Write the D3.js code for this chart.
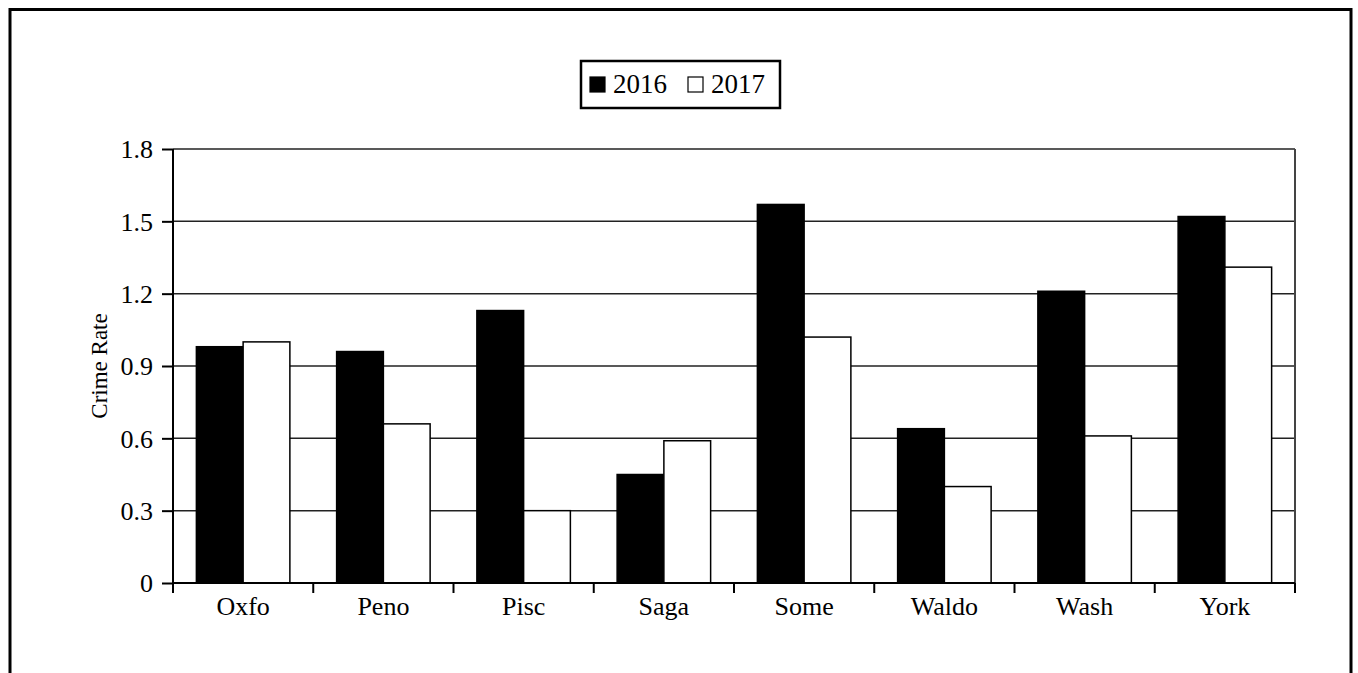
<!DOCTYPE html>
<html>
<head>
<meta charset="utf-8">
<script src="https://cdn.jsdelivr.net/npm/d3@7"></script>
<style>
  body { margin: 0; background: #fff; }
  text { font-family: "Liberation Serif", "Times New Roman", serif; fill: #000; }
</style>
</head>
<body>
<svg id="chart" width="1358" height="673"></svg>
<script>
// chart data
const counties = ["Oxfo", "Peno", "Pisc", "Saga", "Some", "Waldo", "Wash", "York"];
const years = ["2016", "2017"];
const rate2016 = [0.98, 0.96, 1.13, 0.45, 1.57, 0.64, 1.21, 1.52];
const rate2017 = [1.00, 0.66, 0.30, 0.59, 1.02, 0.40, 0.61, 1.31];
const yTicks = [0, 0.3, 0.6, 0.9, 1.2, 1.5, 1.8];

const svg = d3.select("#chart");

// outer frame (bottom edge runs off the picture)
svg.append("rect")
  .attr("x", 10).attr("y", 9.5)
  .attr("width", 1341).attr("height", 700)
  .attr("fill", "none").attr("stroke", "#000").attr("stroke-width", 3);

const plotL = 173, plotR = 1295, plotT = 149, plotB = 583;

const x = d3.scaleBand().domain(counties).range([plotL, plotR]);
const xInner = d3.scaleBand().domain(years)
  .range([0, x.bandwidth()]).paddingOuter(0.5);
const y = d3.scaleLinear().domain([0, 1.8]).range([plotB, plotT]);

// gridlines
svg.append("g").selectAll("line")
  .data(yTicks.slice(1))
  .join("line")
  .attr("x1", plotL).attr("x2", plotR)
  .attr("y1", d => y(d)).attr("y2", d => y(d))
  .attr("stroke", "#222").attr("stroke-width", 1.5);

// right edge of plot
svg.append("line")
  .attr("x1", plotR).attr("x2", plotR)
  .attr("y1", plotT).attr("y2", plotB)
  .attr("stroke", "#444").attr("stroke-width", 2);

const rows = counties.map((c, i) => ({ county: c, values: [rate2016[i], rate2017[i]] }));

const groups = svg.append("g").selectAll("g")
  .data(rows)
  .join("g")
  .attr("transform", d => `translate(${x(d.county)},0)`);

groups.selectAll("rect")
  .data(d => d.values.map((v, j) => ({ year: years[j], v })))
  .join("rect")
  .attr("x", d => xInner(d.year))
  .attr("width", xInner.bandwidth())
  .attr("y", d => y(d.v))
  .attr("height", d => plotB - y(d.v))
  .attr("fill", d => d.year === "2016" ? "#000" : "#fff")
  .attr("stroke", "#000").attr("stroke-width", 1.5);

// y axis
const yAxis = svg.append("g")
  .attr("transform", `translate(${plotL},0)`)
  .call(d3.axisLeft(y).tickValues(yTicks).tickSize(11).tickPadding(9)
    .tickFormat(d => d === 0 ? "0" : d3.format(".1f")(d)));
yAxis.select(".domain").attr("stroke", "#000").attr("stroke-width", 2).attr("d", `M0,${plotT}V${plotB}`);
yAxis.selectAll(".tick line").attr("stroke", "#000").attr("stroke-width", 2);
yAxis.selectAll("text").style("font-size", "26px").attr("dy", "0.34em");

// x axis
const xAxis = svg.append("g")
  .attr("transform", `translate(0,${plotB})`)
  .call(d3.axisBottom(x).tickSize(0).tickPadding(14));
xAxis.select(".domain").attr("stroke", "#000").attr("stroke-width", 2).attr("d", `M${plotL},0H${plotR}`);
xAxis.selectAll("text").style("font-size", "26px").attr("dy", "0.71em");

// category separator ticks
xAxis.append("g").selectAll("line")
  .data(counties.concat(["end"]))
  .join("line")
  .attr("x1", (d, i) => plotL + i * x.bandwidth())
  .attr("x2", (d, i) => plotL + i * x.bandwidth())
  .attr("y1", 0).attr("y2", 10)
  .attr("stroke", "#000").attr("stroke-width", 2);

// y axis title
svg.append("text")
  .attr("transform", `translate(107,${(plotT + plotB) / 2}) rotate(-90)`)
  .attr("text-anchor", "middle")
  .style("font-size", "23px")
  .text("Crime Rate");

// legend
const legend = svg.append("g");
legend.append("rect")
  .attr("x", 581).attr("y", 61).attr("width", 199).attr("height", 47)
  .attr("fill", "#fff").attr("stroke", "#000").attr("stroke-width", 2.5);

const legendX = [590, 688];
years.forEach((yr, j) => {
  legend.append("rect")
    .attr("x", legendX[j]).attr("y", 77).attr("width", 15).attr("height", 15)
    .attr("fill", yr === "2016" ? "#000" : "#fff")
    .attr("stroke", "#000").attr("stroke-width", 1.2);
  legend.append("text")
    .attr("x", legendX[j] + 23).attr("y", 93)
    .style("font-size", "27px")
    .text(yr);
});
</script>
</body>
</html>
